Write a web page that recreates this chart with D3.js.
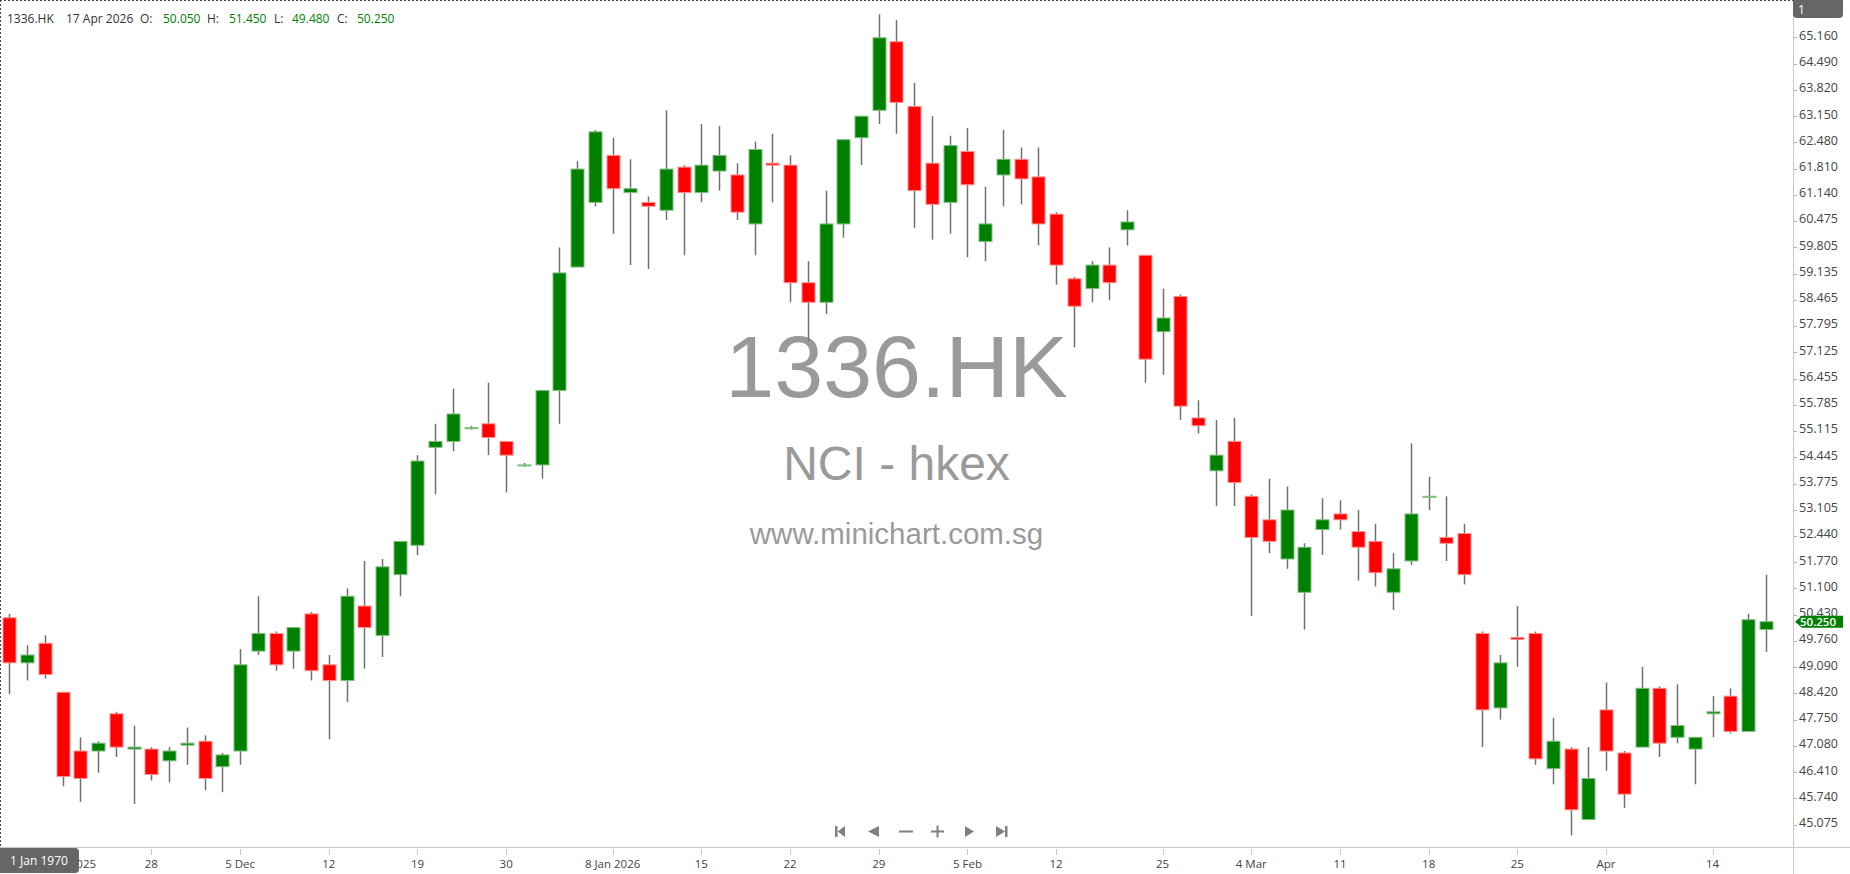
<!DOCTYPE html>
<html>
<head>
<meta charset="UTF-8">
<title>1336.HK</title>
<style>
body, html {
	padding: 0;
	margin: 0;
	overflow: hidden;
	background: #ffffff;
}
svg text {
	font-family: 'Open Sans', sans-serif;
}
.wm {
	font-family: 'Liberation Sans', Arial, sans-serif !important;
	fill: #9a9a9a;
	text-anchor: middle;
}
</style>
<script src="https://cdn.jsdelivr.net/npm/d3@7"></script>
</head>
<body>
<div id="chart"></div>
<script>
// trading days, 18 Nov 2025 .. 17 Apr 2026
var dates = [
	"2025-11-18","2025-11-19","2025-11-20","2025-11-21","2025-11-24","2025-11-25","2025-11-26","2025-11-27","2025-11-28",
	"2025-12-01","2025-12-02","2025-12-03","2025-12-04","2025-12-05","2025-12-08","2025-12-09","2025-12-10","2025-12-11","2025-12-12",
	"2025-12-15","2025-12-16","2025-12-17","2025-12-18","2025-12-19","2025-12-22","2025-12-23","2025-12-24","2025-12-29","2025-12-30","2025-12-31",
	"2026-01-02","2026-01-05","2026-01-06","2026-01-07","2026-01-08","2026-01-09","2026-01-12","2026-01-13","2026-01-14","2026-01-15","2026-01-16",
	"2026-01-19","2026-01-20","2026-01-21","2026-01-22","2026-01-23","2026-01-26","2026-01-27","2026-01-28","2026-01-29","2026-01-30",
	"2026-02-02","2026-02-03","2026-02-04","2026-02-05","2026-02-06","2026-02-09","2026-02-10","2026-02-11","2026-02-12","2026-02-13",
	"2026-02-16","2026-02-20","2026-02-23","2026-02-24","2026-02-25","2026-02-26","2026-02-27",
	"2026-03-02","2026-03-03","2026-03-04","2026-03-05","2026-03-06","2026-03-09","2026-03-10","2026-03-11","2026-03-12","2026-03-13",
	"2026-03-16","2026-03-17","2026-03-18","2026-03-19","2026-03-20","2026-03-23","2026-03-24","2026-03-25","2026-03-26","2026-03-27",
	"2026-03-30","2026-03-31","2026-04-01","2026-04-02","2026-04-08","2026-04-09","2026-04-10","2026-04-13","2026-04-14",
	"2026-04-15","2026-04-16","2026-04-17"
];

var open = [
	50.35,49.20,49.70,48.45,46.95,46.95,47.90,47.00,47.00,
	46.70,47.10,47.20,46.55,46.95,49.50,49.95,49.50,50.45,49.15,
	48.75,50.65,49.90,51.45,52.20,54.70,54.85,55.20,55.30,54.85,54.25,
	54.25,56.15,59.30,60.95,62.15,61.20,60.95,60.75,61.85,61.20,61.75,
	61.65,60.40,61.95,61.90,58.90,58.40,60.40,62.60,63.30,65.05,
	63.40,61.95,60.95,62.25,59.95,61.65,62.05,61.60,60.65,59.00,
	58.75,59.35,60.25,59.60,57.65,58.55,55.45,
	54.10,54.85,53.45,52.85,51.85,51.00,52.60,53.00,52.55,52.30,
	51.00,51.80,53.45,52.40,52.50,49.95,48.05,49.85,49.95,46.50,
	47.00,45.20,48.00,46.90,47.05,48.55,47.30,47.00,47.90,
	48.35,47.45,50.05
];
var high = [
	50.45,49.65,49.90,48.45,47.30,47.20,47.95,47.60,47.05,
	47.05,47.55,47.35,46.90,49.55,50.90,50.00,50.10,50.50,49.40,
	51.10,51.80,51.85,52.30,54.50,55.30,56.20,55.25,56.35,54.85,54.30,
	56.15,59.80,62.00,62.80,62.60,62.05,61.10,63.30,61.90,62.95,62.90,
	61.95,62.50,62.70,62.15,59.45,61.25,62.55,63.15,65.75,65.60,
	64.00,63.15,62.65,62.85,61.35,62.80,62.35,62.35,60.70,59.05,
	59.45,59.80,60.75,59.60,58.75,58.60,55.90,
	55.40,55.45,53.50,53.90,53.70,52.25,53.40,53.35,53.10,52.75,
	52.00,54.80,53.95,53.45,52.75,50.00,49.40,50.65,50.00,47.80,
	47.05,47.05,48.70,46.95,49.10,48.60,48.65,47.30,48.35,
	48.55,50.45,51.45
];
var low = [
	48.40,48.75,48.80,46.05,45.65,46.40,46.80,45.60,46.20,
	46.15,46.60,45.95,45.90,46.60,49.40,49.00,49.05,48.75,47.25,
	48.20,49.05,49.35,50.90,51.95,53.50,54.60,55.15,54.50,53.55,54.20,
	53.90,55.30,59.30,60.85,60.15,59.35,59.25,60.50,59.60,60.95,61.25,
	60.50,59.60,60.95,58.40,57.40,58.10,60.05,61.90,62.95,62.70,
	60.30,60.00,60.15,59.55,59.45,60.85,60.90,59.85,58.85,57.25,
	58.40,58.45,59.85,56.35,56.55,55.40,55.05,
	53.20,53.20,50.40,52.00,51.60,50.05,51.95,52.60,51.30,51.15,
	50.55,51.70,53.10,51.80,51.20,47.05,47.75,49.10,46.60,46.10,
	44.80,45.20,46.45,45.50,47.05,46.80,47.15,46.10,47.30,
	47.40,47.45,49.48
];
var close = [
	49.20,49.40,48.90,46.30,46.25,47.15,47.05,47.05,46.35,
	46.95,47.15,46.25,46.85,49.15,49.95,49.15,50.10,49.00,48.75,
	50.90,50.10,51.65,52.30,54.35,54.85,55.55,55.20,54.95,54.50,54.25,
	56.15,59.15,61.80,62.75,61.30,61.30,60.85,61.80,61.20,61.90,62.15,
	60.70,62.30,61.90,58.90,58.40,60.40,62.55,63.15,65.15,63.50,
	61.25,60.90,62.40,61.40,60.40,62.05,61.55,60.40,59.35,58.30,
	59.35,58.90,60.45,56.95,58.00,55.75,55.25,
	54.50,53.80,52.40,52.30,53.10,52.15,52.85,52.85,52.15,51.50,
	51.60,53.00,53.45,52.25,51.45,48.00,49.20,49.80,46.75,47.20,
	45.45,46.25,46.95,45.85,48.55,47.15,47.60,47.30,47.95,
	47.45,50.30,50.25
];

var xTickDates = ["2025-11-21","2025-11-28","2025-12-05","2025-12-12","2025-12-19","2025-12-30","2026-01-08","2026-01-15","2026-01-22","2026-01-29","2026-02-05","2026-02-12","2026-02-25","2026-03-04","2026-03-11","2026-03-18","2026-03-25","2026-04-01","2026-04-14"];
var xTickLabels = ["21 Nov 2025","28","5 Dec","12","19","30","8 Jan 2026","15","22","29","5 Feb","12","25","4 Mar","11","18","25","Apr","14"];

var yTickLabels = ["65.160","64.490","63.820","63.150","62.480","61.810","61.140","60.475","59.805","59.135","58.465","57.795","57.125","56.455","55.785","55.115","54.445","53.775","53.105","52.440","51.770","51.100","50.430","49.760","49.090","48.420","47.750","47.080","46.410","45.740","45.075"];

var width = 1850;
var height = 874;
var plotRight = 1793;
var plotBottom = 847;

var green = "#008000";
var red = "#ff0000";

var svg = d3.select("#chart").append("svg");
svg.attr("width", width);
svg.attr("height", height);
svg.style("background", "#ffffff");
svg.style("display", "block");

var x = d3.scaleBand().domain(dates).range([0.6, 1774.6]).padding(0);
var y = d3.scaleLinear().domain([45.075, 65.16]).range([824.5, 37.4]);

var candles = dates.map(function(d, i) {
	return {date: d, o: open[i], h: high[i], l: low[i], c: close[i]};
});

// watermark
var cx = plotRight/2;
svg.append("text").attr("class", "wm").attr("x", cx).attr("y", 397).style("font-size", "88px").text("1336.HK");
svg.append("text").attr("class", "wm").attr("x", cx).attr("y", 480).style("font-size", "48px").text("NCI - hkex");
svg.append("text").attr("class", "wm").attr("x", cx).attr("y", 544).style("font-size", "29.5px").text("www.minichart.com.sg");

// frame
svg.append("line").attr("x1", 0).attr("x2", plotRight).attr("y1", 0.5).attr("y2", 0.5).attr("stroke", "#444").attr("stroke-dasharray", "2,2");
svg.append("line").attr("x1", 0.5).attr("x2", 0.5).attr("y1", 0).attr("y2", plotBottom).attr("stroke", "#444").attr("stroke-dasharray", "2,2");
svg.append("line").attr("x1", plotRight + 0.5).attr("x2", plotRight + 0.5).attr("y1", 0).attr("y2", height).attr("stroke", "#c8c8c8");
svg.append("line").attr("x1", 0).attr("x2", width).attr("y1", plotBottom + 0.5).attr("y2", plotBottom + 0.5).attr("stroke", "#c8c8c8");

// candles
var g = svg.append("g");
var bw = Math.round(x.bandwidth()*0.75);

g.selectAll("line.wick").data(candles).enter().append("line")
	.attr("class", "wick")
	.attr("x1", function(d) {return Math.round(x(d.date) + x.bandwidth()/2) + 0.5})
	.attr("x2", function(d) {return Math.round(x(d.date) + x.bandwidth()/2) + 0.5})
	.attr("y1", function(d) {return y(d.h)})
	.attr("y2", function(d) {return y(d.l)})
	.attr("stroke", "#707070")
	.attr("stroke-width", 1.5);

g.selectAll("rect.body").data(candles).enter().append("rect")
	.attr("class", "body")
	.attr("x", function(d) {return Math.round(x(d.date) + x.bandwidth()/2) + 0.5 - bw/2})
	.attr("width", bw)
	.attr("y", function(d) {return y(Math.max(d.o, d.c))})
	.attr("height", function(d) {return Math.max(1, Math.abs(y(d.o) - y(d.c)))})
	.attr("fill", function(d) {return d.c >= d.o ? green : red})
	.attr("stroke", function(d) {return d.c >= d.o ? "#7fbf7f" : "#ff8f8f"})
	.attr("stroke-width", 1);

// y axis
var yt = svg.append("g");
yt.selectAll("line").data(yTickLabels).enter().append("line")
	.attr("x1", plotRight + 1).attr("x2", plotRight + 4)
	.attr("y1", function(d) {return Math.round(y(+d)) + 0.5})
	.attr("y2", function(d) {return Math.round(y(+d)) + 0.5})
	.attr("stroke", "#b0b0b0");
yt.selectAll("text").data(yTickLabels).enter().append("text")
	.attr("x", plotRight + 6)
	.attr("y", function(d) {return y(+d) - 2})
	.attr("dy", "0.35em")
	.style("font-size", "12.5px")
	.style("fill", "#444")
	.text(function(d) {return d});

// x axis
var xt = svg.append("g");
xt.selectAll("line").data(xTickDates).enter().append("line")
	.attr("x1", function(d) {return Math.round(x(d) + x.bandwidth()/2) + 0.5})
	.attr("x2", function(d) {return Math.round(x(d) + x.bandwidth()/2) + 0.5})
	.attr("y1", plotBottom + 2).attr("y2", plotBottom + 8)
	.attr("stroke", "#c8c8c8");
xt.selectAll("text").data(xTickDates).enter().append("text")
	.attr("x", function(d) {return x(d) + x.bandwidth()/2})
	.attr("y", 868)
	.attr("text-anchor", "middle")
	.style("font-size", "11.5px")
	.style("fill", "#444")
	.text(function(d, i) {return xTickLabels[i]});

// last price tag
var last = candles[candles.length - 1];
var ly = y(last.c);
svg.append("path")
	.attr("d", "M" + (plotRight + 2) + "," + ly + "L" + (plotRight + 9) + "," + (ly - 6) + "H" + 1843 + "V" + (ly + 6) + "H" + (plotRight + 9) + "Z")
	.attr("fill", green);
svg.append("text").attr("x", 1818).attr("y", ly).attr("dy", "0.35em").attr("text-anchor", "middle")
	.style("font-size", "11.5px").style("fill", "#ffffff").style("font-weight", "600").text(d3.format(".3f")(last.c));

// header
var hdr = [
	[7, "1336.HK", "#333"], [66, d3.timeFormat("%-d %b %Y")(d3.timeParse("%Y-%m-%d")(last.date)), "#333"],
	[140, "O:", "#333"], [163, d3.format(".3f")(last.o), green],
	[207, "H:", "#333"], [229, d3.format(".3f")(last.h), green],
	[274, "L:", "#333"], [292, d3.format(".3f")(last.l), green],
	[337, "C:", "#333"], [357, d3.format(".3f")(last.c), green]
];
svg.append("g").selectAll("text").data(hdr).enter().append("text")
	.attr("x", function(d) {return d[0]})
	.attr("y", 22.5)
	.style("font-size", "12px")
	.style("fill", function(d) {return d[2]})
	.text(function(d) {return d[1]});

// corner boxes
svg.append("rect").attr("x", plotRight).attr("y", -4).attr("width", 50).attr("height", 22).attr("rx", 4).attr("fill", "#666");
svg.append("text").attr("x", plotRight + 5).attr("y", 13.5).style("font-size", "12px").style("fill", "#fff").text("1");
svg.append("rect").attr("x", -4).attr("y", 848).attr("width", 83).attr("height", 25).attr("rx", 4).attr("fill", "#666");
svg.append("text").attr("x", 39).attr("y", 865).attr("text-anchor", "middle").style("font-size", "12px").style("fill", "#fff").text("1 Jan 1970");

// navigation buttons
var nav = svg.append("g").attr("fill", "#808080");
nav.append("rect").attr("x", 835).attr("y", 826).attr("width", 2.5).attr("height", 11);
nav.append("path").attr("d", "M837.5,831.5L845,826V837Z");
nav.append("path").attr("d", "M868,831.5L879,826V837Z");
nav.append("rect").attr("x", 899).attr("y", 830.5).attr("width", 14).attr("height", 2);
nav.append("rect").attr("x", 931).attr("y", 830.5).attr("width", 13).attr("height", 2);
nav.append("rect").attr("x", 936.5).attr("y", 825.5).attr("width", 2).attr("height", 12);
nav.append("path").attr("d", "M974,831.5L965,826V837Z");
nav.append("path").attr("d", "M1005,831.5L996,826V837Z");
nav.append("rect").attr("x", 1005).attr("y", 826).attr("width", 2.5).attr("height", 11);
</script>
</body>
</html>
